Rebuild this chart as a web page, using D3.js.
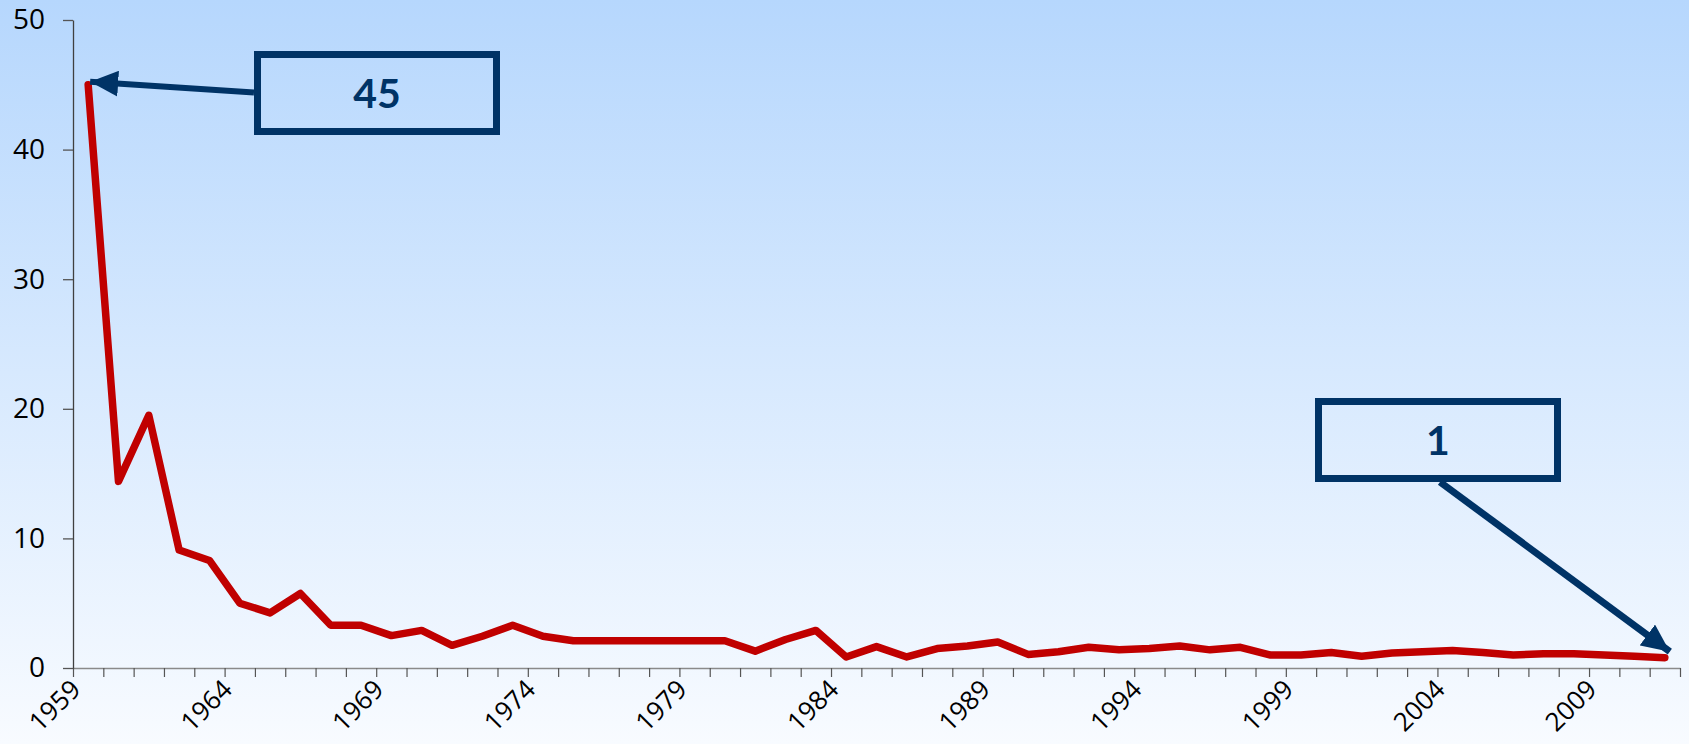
<!DOCTYPE html>
<html>
<head>
<meta charset="utf-8">
<script src="https://cdn.jsdelivr.net/npm/d3@7"></script>
<style>
  body { margin: 0; padding: 0; overflow: hidden; }
  #chart { width: 1689px; height: 744px; }
</style>
</head>
<body>
<div id="chart"></div>
<script>
// years on the category axis
var years = d3.range(1959, 2012);

// values, one per year
var values = [45, 14.4, 19.5, 9.1, 8.3, 5.0, 4.25, 5.75, 3.3, 3.3,
    2.5, 2.9, 1.75, 2.45, 3.3, 2.45, 2.1, 2.1, 2.1, 2.1,
    2.1, 2.1, 1.3, 2.2, 2.9, 0.85, 1.65, 0.85, 1.5, 1.7,
    2.0, 1.05, 1.25, 1.6, 1.4, 1.5, 1.7, 1.4, 1.6, 1.0,
    1.0, 1.2, 0.9, 1.15, 1.25, 1.35, 1.2, 1.0, 1.1, 1.1,
    1.0, 0.9, 0.8];

var yTicks = [0, 10, 20, 30, 40, 50];
var yearLabels = years.filter((d) => (d - 1959) % 5 === 0);

// callouts: which year they point at and what they say
var calloutYears = [1959, 2011];
var calloutTexts = ["45", "1"];

const w = 1689;
const h = 744;
const padLeft = 73;
const padRight = 1680;
const padTop = 20;
const axisY = 668;
const navy = "#003366";

const svg = d3.select("#chart")
    .append("svg")
    .attr("width", w)
    .attr("height", h);

var defs = svg.append("defs");
var grad = defs.append("linearGradient")
    .attr("id", "bg")
    .attr("x1", 0).attr("y1", 0)
    .attr("x2", 0).attr("y2", 1);
grad.append("stop").attr("offset", "0%").attr("stop-color", "#b6d7fd");
grad.append("stop").attr("offset", "100%").attr("stop-color", "#f8fbff");

defs.append("marker")
    .attr("id", "arrow")
    .attr("markerUnits", "userSpaceOnUse")
    .attr("viewBox", "0 0 28 26")
    .attr("refX", 28)
    .attr("refY", 13)
    .attr("markerWidth", 28)
    .attr("markerHeight", 26)
    .attr("orient", "auto")
    .append("path")
    .attr("d", "M0,0 L28,13 L0,26 Z")
    .attr("fill", navy);

svg.append("rect")
    .attr("width", w)
    .attr("height", h)
    .attr("fill", "url(#bg)");

const xScale = d3.scaleBand()
    .domain(years)
    .range([padLeft, padRight])
    .paddingInner(0)
    .paddingOuter(0);

const xCenter = (yr) => xScale(yr) + xScale.bandwidth() / 2;

// tick marks sit on the borders between categories
const xTickScale = d3.scaleLinear()
    .domain([0, years.length])
    .range([padLeft, padRight]);

const yScale = d3.scaleLinear()
    .domain([0, 50])
    .range([axisY, padTop]);

// X axis ticks
const xAxis = d3.axisBottom(xTickScale)
    .tickValues(d3.range(0, years.length + 1))
    .tickSize(9)
    .tickSizeOuter(0)
    .tickFormat("");

var gx = svg.append("g")
    .attr("id", "x-axis")
    .attr("transform", "translate(0," + axisY + ")")
    .call(xAxis);
gx.select(".domain").attr("stroke", "#8a8a8a").attr("stroke-width", 1.5);
gx.selectAll(".tick line").attr("stroke", "#555").attr("stroke-width", 1.2);

// X labels, rotated
svg.append("g")
    .selectAll("text")
    .data(yearLabels)
    .enter()
    .append("text")
    .attr("transform", (d) => "translate(" + (xCenter(d) - 6) + "," + (axisY + 23) + ") rotate(-45)")
    .attr("text-anchor", "end")
    .style("font-family", "'Open Sans', sans-serif")
    .style("font-size", "26px")
    .attr("fill", "#000")
    .text((d) => d);

// Y axis
const yAxis = d3.axisLeft(yScale)
    .tickValues(yTicks)
    .tickSize(10)
    .tickSizeOuter(0)
    .tickPadding(18);

var gy = svg.append("g")
    .attr("id", "y-axis")
    .attr("transform", "translate(" + padLeft + ",0)")
    .call(yAxis);
gy.select(".domain").attr("stroke", "#404040").attr("stroke-width", 1.3);
gy.selectAll(".tick line").attr("stroke", "#555").attr("stroke-width", 1.3);
gy.selectAll(".tick text")
    .style("font-family", "'Open Sans', sans-serif")
    .style("font-size", "28px")
    .attr("fill", "#000");

// the line
const line = d3.line()
    .x((d, i) => xCenter(years[i]))
    .y((d) => yScale(d));

svg.append("path")
    .datum(values)
    .attr("d", line)
    .attr("fill", "none")
    .attr("stroke", "#c00000")
    .attr("stroke-width", 7.5)
    .attr("stroke-linejoin", "round")
    .attr("stroke-linecap", "round");

// callout boxes (layout), arrows aim at the data points
var boxes = [
    { x: 257.5, y: 54.5, bw: 239, bh: 77, fromX: 254, fromY: 92.5, dx: 2, dy: -3, sw: 6 },
    { x: 1318.5, y: 401.5, bw: 239, bh: 77, fromX: 1440, fromY: 482, dx: 5, dy: -6, sw: 7 }
];

boxes.forEach((b, i) => {
    var yr = calloutYears[i];
    var v = values[years.indexOf(yr)];
    svg.append("line")
        .attr("x1", b.fromX)
        .attr("y1", b.fromY)
        .attr("x2", xCenter(yr) + b.dx)
        .attr("y2", yScale(v) + b.dy)
        .attr("stroke", navy)
        .attr("stroke-width", b.sw)
        .attr("marker-end", "url(#arrow)");

    svg.append("rect")
        .attr("x", b.x)
        .attr("y", b.y)
        .attr("width", b.bw)
        .attr("height", b.bh)
        .attr("fill", "none")
        .attr("stroke", navy)
        .attr("stroke-width", 7);

    svg.append("text")
        .attr("x", b.x + b.bw / 2)
        .attr("y", b.y + b.bh / 2 + 15)
        .attr("text-anchor", "middle")
        .style("font-family", "Lato, sans-serif")
        .style("font-weight", "bold")
        .style("font-size", "41px")
        .attr("fill", navy)
        .text(calloutTexts[i]);
});
</script>
</body>
</html>
